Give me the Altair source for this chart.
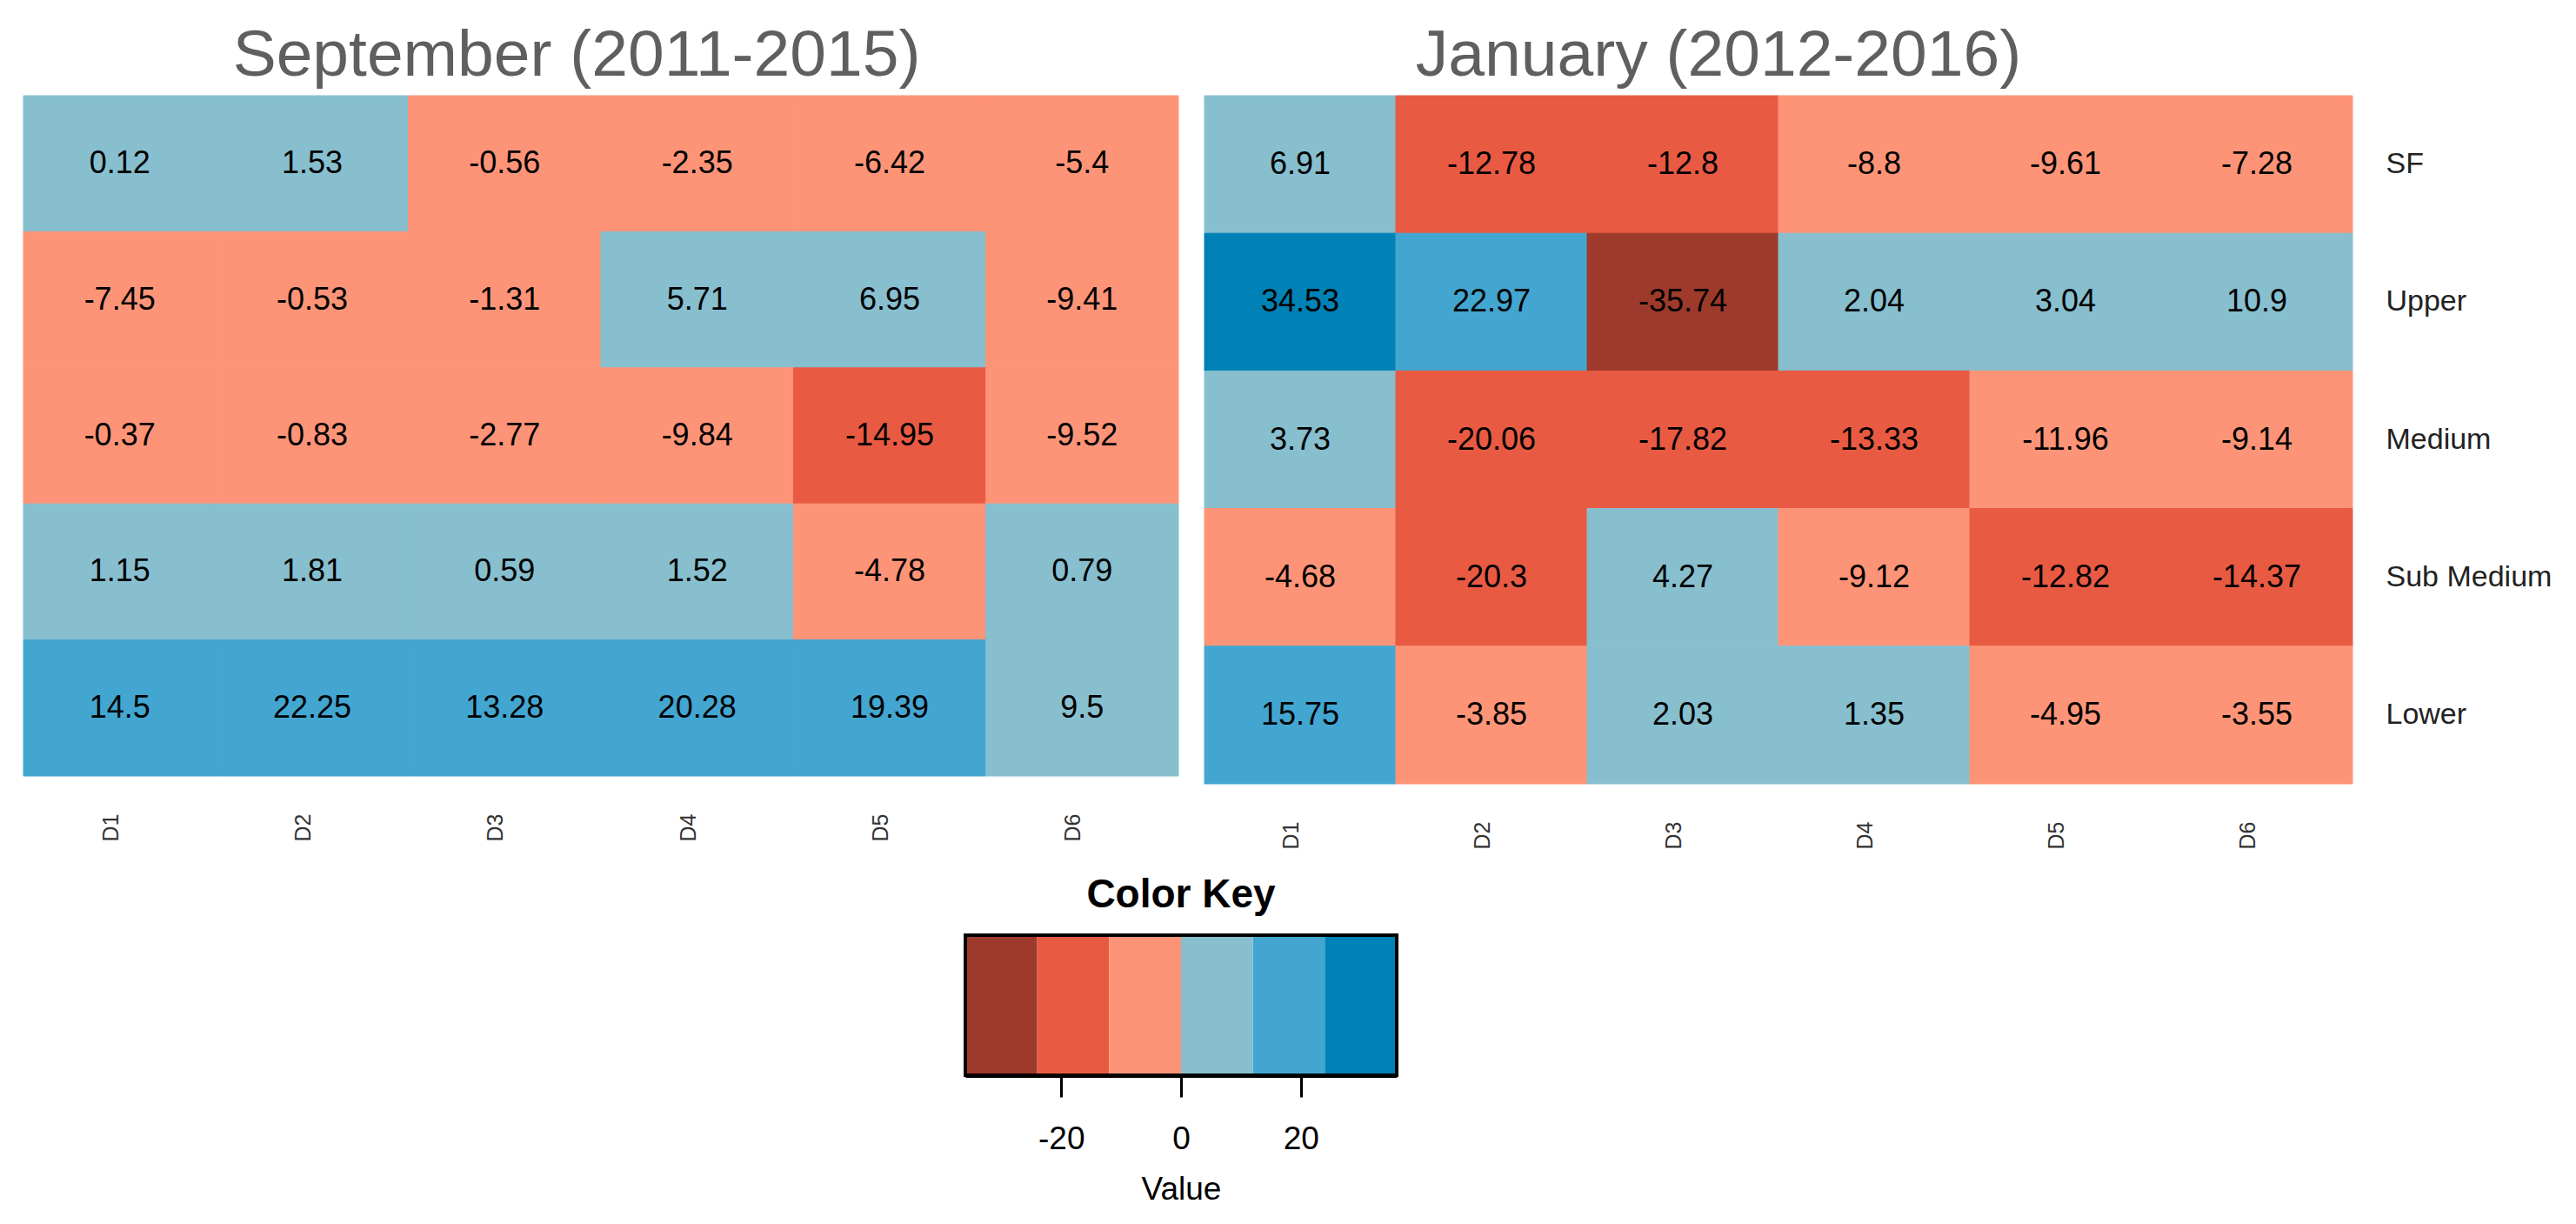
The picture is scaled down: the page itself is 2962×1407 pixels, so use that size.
import altair as alt
import pandas as pd

FONT = "Liberation Sans"

districts = ["D1", "D2", "D3", "D4", "D5", "D6"]
strata = ["SF", "Upper", "Medium", "Sub Medium", "Lower"]

# September (2011-2015)
sep_sf = [0.12, 1.53, -0.56, -2.35, -6.42, -5.4]
sep_upper = [-7.45, -0.53, -1.31, 5.71, 6.95, -9.41]
sep_medium = [-0.37, -0.83, -2.77, -9.84, -14.95, -9.52]
sep_submedium = [1.15, 1.81, 0.59, 1.52, -4.78, 0.79]
sep_lower = [14.5, 22.25, 13.28, 20.28, 19.39, 9.5]

# January (2012-2016)
jan_sf = [6.91, -12.78, -12.8, -8.8, -9.61, -7.28]
jan_upper = [34.53, 22.97, -35.74, 2.04, 3.04, 10.9]
jan_medium = [3.73, -20.06, -17.82, -13.33, -11.96, -9.14]
jan_submedium = [-4.68, -20.3, 4.27, -9.12, -12.82, -14.37]
jan_lower = [15.75, -3.85, 2.03, 1.35, -4.95, -3.55]

# colour key
key_breaks = [-36, -24, -12, 0, 12, 24, 36]
key_thresholds = [-24, -12, 0, 12, 24]
key_colors = ["#9D3A2B", "#E95A43", "#FE9477", "#87BFCF", "#42A6D1", "#0082B6"]
key_ticks = [-20, 0, 20]


def frame(rows):
    recs = []
    for s, vals in zip(strata, rows):
        for d, v in zip(districts, vals):
            recs.append({"district": d, "stratum": s, "value": v, "label": str(v)})
    return pd.DataFrame(recs)


sep_df = frame([sep_sf, sep_upper, sep_medium, sep_submedium, sep_lower])
jan_df = frame([jan_sf, jan_upper, jan_medium, jan_submedium, jan_lower])

color_scale = alt.Scale(type="threshold", domain=key_thresholds, range=key_colors)


def heatmap(df, title, w, h, dx, show_y):
    x_enc = alt.X(
        "district:N", sort=districts,
        axis=alt.Axis(orient="bottom", labelAngle=-90, labelFontSize=25, labelFont=FONT,
                      labelColor="#333333", labelPadding=43, labelOffset=-10, ticks=False,
                      tickSize=0, domain=False, title=None),
    )
    if show_y:
        y_enc = alt.Y(
            "stratum:N", sort=strata,
            axis=alt.Axis(orient="right", labelAlign="left", labelPadding=38, labelFontSize=34,
                          labelFont=FONT, labelColor="#222222", labelLimit=0, ticks=False,
                          tickSize=0, domain=False, title=None),
        )
    else:
        y_enc = alt.Y("stratum:N", sort=strata, axis=None)
    base = alt.Chart(df)
    rect = base.mark_rect(strokeWidth=1).encode(
        x=x_enc, y=y_enc,
        color=alt.Color("value:Q", scale=color_scale, legend=None),
        stroke=alt.Stroke("value:Q", scale=color_scale, legend=None),
    )
    text = base.mark_text(fontSize=36, font=FONT, color="black").encode(
        x=x_enc, y=y_enc, text="label:N"
    )
    return alt.layer(rect, text).properties(
        width=w, height=h,
        title=alt.TitleParams(title, fontSize=75, font=FONT, color="#5f5f5f",
                              fontWeight="normal", frame="group", anchor="middle",
                              dx=dx, offset=7),
    )


left = heatmap(sep_df, "September (2011-2015)", 1328, 782, -28, False)
right = heatmap(jan_df, "January (2012-2016)", 1320, 791, -69, True)

key_df = pd.DataFrame({"lo": key_breaks[:-1], "hi": key_breaks[1:]})
border_df = pd.DataFrame({"lo": [key_breaks[0]], "hi": [key_breaks[-1]]})
key_x = alt.Scale(domain=[key_breaks[0], key_breaks[-1]], nice=False, zero=False)

bins = alt.Chart(key_df).mark_rect().encode(
    x=alt.X("lo:Q", scale=key_x,
            axis=alt.Axis(values=key_ticks, title="Value", grid=False, tickSize=25,
                          tickWidth=3, tickColor="black", domainColor="black",
                          domainWidth=5, labelFontSize=37, labelFont=FONT,
                          labelColor="black", labelPadding=30,
                          labelExpr="toString(datum.value)", titleFontSize=37,
                          titleFont=FONT, titleFontWeight="normal", titleColor="black",
                          titlePadding=22)),
    x2="hi:Q",
    color=alt.Color("lo:Q", scale=color_scale, legend=None),
)
border = alt.Chart(border_df).mark_rect(fillOpacity=0, stroke="black", strokeWidth=4).encode(
    x=alt.X("lo:Q", scale=key_x), x2="hi:Q"
)
key = alt.layer(bins, border).properties(
    width=496, height=161,
    title=alt.TitleParams("Color Key", fontSize=46, fontWeight="bold", font=FONT,
                          color="black", anchor="middle", offset=20),
)

spacer = alt.Chart(pd.DataFrame({"a": [0]})).mark_point(opacity=0).encode(
    x=alt.value(0), y=alt.value(0)
).properties(width=1081, height=10)

top = alt.hconcat(left, right, spacing=28)
bottom = alt.hconcat(spacer, key, spacing=0)

chart = alt.vconcat(top, bottom, spacing=30).properties(
    padding={"left": 16, "top": 18, "right": 0, "bottom": 0}
).configure_view(strokeWidth=0)

chart.save("out.html", embed_options={"renderer": "svg", "actions": False})
